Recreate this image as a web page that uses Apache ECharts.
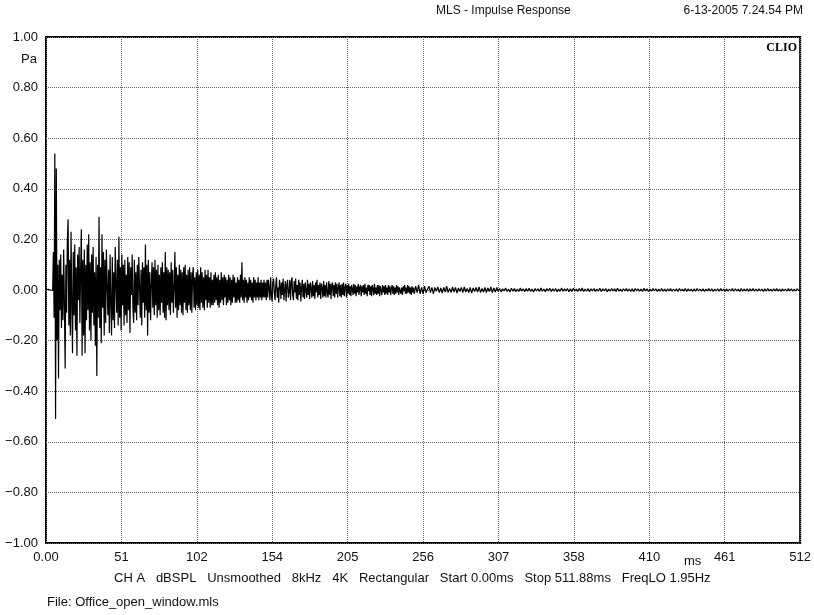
<!DOCTYPE html>
<html>
<head>
<meta charset="utf-8">
<script src="https://cdn.jsdelivr.net/npm/echarts@6/dist/echarts.min.js"></script>
<style>
html,body{margin:0;padding:0;background:#fff;}
#chart{width:814px;height:615px;}
</style>
</head>
<body>
<div id="chart"></div>
<script>
// Segment A: 0 .. 150 ms, every 0.5 ms (301 values, 10 per row = 5 ms)
var segAStart = 0, segAStep = 0.5;
var segAValues = [
 0, 0, 0, 0.003, -0.002, 0.002, 0, -0.003, 0.004, -0.002,
 0.15, -0.11, 0.54, -0.51, 0.48, -0.20, 0.10, -0.35, 0.12, -0.08,
 0.14, -0.15, 0.06, -0.12, 0.16, -0.05, -0.31, 0.10, -0.09, 0.20,
 0.28, -0.14, 0.12, -0.18, 0.23, -0.06, -0.25, 0.15, -0.10, 0.18,
 -0.16, 0.09, -0.26, 0.14, -0.04, 0.17, -0.13, 0.08, 0.24, -0.26,
 0.12, -0.18, 0.16, -0.25, 0.10, -0.12, 0.18, -0.08, 0.22, -0.16,
 0.11, -0.20, 0.14, -0.09, 0.17, -0.14, 0.07, -0.22, 0.13, -0.34,
 0.10, -0.11, 0.29, -0.15, 0.09, -0.21, 0.22, -0.07, 0.15, -0.18,
 0.12, -0.13, 0.16, 0.02, -0.10, 0.08, -0.17, 0.14, -0.05, -0.18,
 0.13, -0.12, 0.07, -0.15, 0.17, 0.03, -0.09, 0.12, -0.14, 0.21,
 -0.11, 0.09, -0.16, 0.14, -0.06, 0.10, -0.14, 0.12, -0.10, 0.06,
 -0.13, 0.13, -0.08, 0.11, -0.17, 0.09, -0.02, 0.14, -0.07, -0.13,
 0.12, -0.09, 0.07, -0.12, 0.10, -0.06, 0.13, 0.01, -0.11, 0.08,
 -0.14, 0.11, -0.05, 0.09, -0.11, 0.18, -0.08, 0.10, -0.18, 0.12,
 -0.09, 0.07, -0.12, 0.02, 0.11, -0.07, 0.09, -0.10, 0.12, -0.06,
 0.08, -0.11, 0.10, -0.08, 0.06, -0.10, 0.09, -0.05, 0.11, -0.09,
 0.07, -0.11, 0.15, -0.12, 0.09, -0.06, 0.08, -0.08, 0.07, -0.10,
 0.11, -0.05, 0.08, -0.09, 0.01, 0.15, -0.07, 0.09, -0.11, 0.06,
 -0.08, 0.10, -0.06, 0.08, -0.09, 0.07, -0.10, 0.09, -0.05, 0.10,
 -0.08, 0.06, -0.09, 0.08, -0.06, 0.09, -0.08, 0.07, -0.09, 0.06,
 0.09, -0.07, 0.05, -0.08, 0.07, -0.06, 0.08, -0.07, 0.06, -0.08,
 0.09, -0.05, 0.07, -0.07, 0.05, -0.08, 0.08, -0.04, 0.06, -0.07,
 0.08, -0.05, 0.05, -0.07, 0.07, -0.06, 0.04, -0.06, 0.06, -0.05,
 0.07, -0.04, 0.05, -0.06, 0.06, -0.07, 0.04, -0.05, 0.07, -0.04,
 0.05, -0.06, 0.06, -0.03, 0.05, -0.06, 0.04, -0.05, 0.06, -0.04,
 0.05, -0.06, 0.04, -0.05, 0.06, -0.03, 0.05, -0.05, 0.03, -0.05,
 0.05, -0.04, 0.04, -0.05, 0.06, -0.03, 0.11, -0.04, 0.04, -0.05,
 0.05, -0.03, 0.04, -0.05, 0.03, -0.04, 0.05, -0.03, 0.04, -0.04,
 0.03, -0.05, 0.05, -0.03, 0.04, -0.04, 0.03, -0.03, 0.05, -0.04,
 0.03, -0.03, 0.04, -0.04, 0.03, -0.03, 0.04, -0.03, 0.03, -0.04,
 0.04
];
// Segment B: 150.5 .. 250 ms, every 0.5 ms (200 values)
var segBStart = 150.5, segBStep = 0.5;
var segBValues = [
 -0.03, 0.04, 0.01, -0.04, 0.05, -0.02, -0.045, 0.03, 0.045, -0.01,
 -0.04, 0.02, 0.05, -0.03, 0.01, -0.05, 0.04, 0.02, -0.035, 0.03,
 -0.02, 0.045, -0.04, 0.0, 0.035, -0.045, 0.02, 0.04, -0.03, -0.01,
 0.04, -0.04, 0.03, 0.05, -0.02, -0.04, 0.035, -0.01, 0.045, -0.035,
 0.02, -0.04, 0.04, -0.02, 0.03, -0.045, 0.01, 0.04, -0.03, 0.025,
 -0.035, 0.03, 0.0, -0.03, 0.04, -0.02, 0.025, -0.035, 0.03, 0.01,
 -0.03, 0.035, -0.025, 0.02, -0.035, 0.03, -0.01, 0.04, -0.03, 0.02,
 -0.02, 0.03, -0.035, 0.025, 0.01, -0.03, 0.035, -0.025, 0.02, -0.03,
 0.03, -0.01, -0.03, 0.035, -0.02, 0.025, -0.035, 0.02, 0.03, -0.025,
 0.02, -0.03, 0.03, -0.015, 0.025, -0.03, 0.01, 0.03, -0.025, 0.02,
 -0.03, 0.025, -0.02, 0.03, -0.025, 0.01, 0.025, -0.03, 0.02, -0.015,
 0.025, -0.02, 0.015, -0.025, 0.02, 0.005, -0.02, 0.025, -0.015, 0.02,
 -0.025, 0.015, -0.01, 0.025, -0.02, 0.01, 0.02, -0.025, 0.015, -0.01,
 0.02, -0.02, 0.025, -0.015, 0.01, -0.025, 0.02, -0.005, 0.02, -0.02,
 0.015, -0.025, 0.02, 0.005, -0.02, 0.025, -0.015, 0.01, -0.02, 0.02,
 -0.015, 0.02, -0.025, 0.015, 0.01, -0.02, 0.02, -0.01, 0.015, -0.02,
 0.02, -0.015, 0.01, -0.02, 0.02, -0.01, 0.015, -0.02, 0.005, 0.02,
 -0.015, 0.015, -0.02, 0.01, -0.015, 0.02, -0.01, 0.015, -0.02, 0.01,
 0.015, -0.015, 0.01, -0.02, 0.015, -0.005, 0.02, -0.015, 0.01, -0.015,
 0.02, -0.01, 0.015, -0.015, 0.01, -0.02, 0.015, -0.01, 0.01, -0.015
];
// Segment C: 251 .. 512 ms, every 1 ms (262 values)
var segCStart = 251, segCStep = 1;
var segCValues = [
 0.015, -0.01, 0.02, -0.015, 0.01, -0.015, 0.015, -0.01,
 -0.01, 0.015, -0.01, 0.01, -0.015, 0.01, -0.005, 0.012, -0.01, 0.008, -0.012, 0.01, -0.008, 0.015, -0.01, 0.006, -0.01, 0.012, -0.008, 0.01, -0.012, 0.008, -0.006, 0.01, -0.01, 0.012, -0.008, 0.006, -0.01, 0.01, -0.012, 0.008, -0.006, 0.01, -0.008, 0.012, -0.01, 0.006, -0.008, 0.01, -0.01, 0.008, -0.006, 0.012, -0.01, 0.008, -0.008, 0.01, -0.006,
 0.006, -0.008, 0.005, -0.004, 0.008, -0.006, 0.004, -0.008, 0.007, -0.005, 0.006, -0.007, 0.004, -0.006, 0.008, -0.004, 0.005, -0.007, 0.006, -0.005,
 0.007, -0.006, 0.004, -0.008, 0.006, -0.004, 0.005, -0.006, 0.008, -0.005, 0.004, -0.007, 0.006, -0.004, 0.007, -0.006, 0.005, -0.005, 0.006, -0.007,
 0.004, -0.006, 0.008, -0.005, 0.005, -0.004, 0.006, -0.007, 0.005, -0.006, 0.007, -0.004, 0.004, -0.006, 0.006, -0.005, 0.008, -0.006, 0.004, -0.005,
 0.006, -0.007, 0.005, -0.004, 0.006, -0.006, 0.004, -0.005, 0.007, -0.006, 0.005, -0.004, 0.006, -0.007, 0.004, -0.005, 0.006, -0.004, 0.005, -0.006,
 0.007, -0.005, 0.004, -0.006, 0.005, -0.004, 0.006, -0.005, 0.004, -0.006, 0.005, -0.007, 0.006, -0.004, 0.005, -0.005, 0.004, -0.006, 0.007, -0.004,
 0.005, -0.006, 0.004, -0.005, 0.006, -0.004, 0.005, -0.006, 0.004, -0.005, 0.006, -0.005, 0.004, -0.006, 0.005, -0.004, 0.006, -0.005, 0.004, -0.004,
 0.005, -0.006, 0.006, -0.004, 0.004, -0.005, 0.006, -0.006, 0.005, -0.004, 0.004, -0.006, 0.005, -0.005, 0.006, -0.004, 0.004, -0.005, 0.005, -0.006,
 0.004, -0.004, 0.006, -0.005, 0.005, -0.006, 0.004, -0.004, 0.005, -0.005, 0.006, -0.004, 0.004, -0.006, 0.005, -0.005, 0.004, -0.004, 0.006, -0.005,
 0.005, -0.004, 0.004, -0.006, 0.006, -0.005, 0.004, -0.004, 0.005, -0.006, 0.005, -0.004, 0.006, -0.005, 0.004, -0.005, 0.005, -0.004, 0.004, -0.006,
 0.005, -0.005, 0.006, -0.004, 0.004, -0.005, 0.005, -0.004, 0.006, -0.005, 0.004, -0.006, 0.005, -0.004, 0.004, -0.005, 0.006, -0.004, 0.005, -0.005,
 0.004, -0.004, 0.005, -0.003, 0.002
];
var xTickLabels = ['0.00', '51', '102', '154', '205', '256', '307', '358', '410', '461', '512'];
var yTickLabels = ['\u22121.00', '\u22120.80', '\u22120.60', '\u22120.40', '\u22120.20', '0.00', '0.20', '0.40', '0.60', '0.80', '1.00'];
var titleText = 'MLS - Impulse Response';
var dateText = '6-13-2005 7.24.54 PM';
var footerItems = ['CH A', 'dBSPL', 'Unsmoothed', '8kHz', '4K', 'Rectangular', 'Start 0.00ms', 'Stop 511.88ms', 'FreqLO 1.95Hz'];
var fileText = 'File: Office_open_window.mls';

var data = [];
segAValues.forEach(function (v, i) { data.push([segAStart + i * segAStep, v]); });
segBValues.forEach(function (v, i) { data.push([segBStart + i * segBStep, v]); });
segCValues.forEach(function (v, i) { data.push([segCStart + i * segCStep, v]); });

var FONT = '"Liberation Sans", Arial, sans-serif';
var chart = echarts.init(document.getElementById('chart'), null, {renderer: 'canvas'});
chart.setOption({
  animation: false,
  backgroundColor: '#fff',
  grid: {left: 46, right: 11, top: 37, bottom: 72, show: true, borderColor: '#000', borderWidth: 2, backgroundColor: 'transparent'},
  xAxis: {
    type: 'value', min: 0, max: 512, interval: 51.2,
    axisLine: {show: false}, axisTick: {show: false},
    splitLine: {show: true, lineStyle: {color: '#666', type: [1, 1], width: 1}},
    axisLabel: {
      margin: 8, color: '#111', fontFamily: FONT, fontSize: 13,
      showMinLabel: true, showMaxLabel: true,
      formatter: function (v) { return xTickLabels[Math.round(v / 51.2)]; }
    }
  },
  yAxis: {
    type: 'value', min: -1, max: 1, interval: 0.2,
    axisLine: {show: false}, axisTick: {show: false},
    splitLine: {show: true, lineStyle: {color: '#666', type: [1, 1], width: 1}},
    axisLabel: {
      margin: 8, color: '#111', fontFamily: FONT, fontSize: 13,
      formatter: function (v) { return yTickLabels[Math.round((v + 1) / 0.2)]; }
    }
  },
  graphic: [
    {type: 'text', left: 436, top: 5, style: {text: titleText, fill: '#111', font: '12px ' + FONT}},
    {type: 'text', right: 11, top: 5, style: {text: dateText, fill: '#111', font: '12px ' + FONT}},
    {type: 'text', right: 17, top: 42, style: {text: 'CLIO', fill: '#000', font: 'bold 12px "Liberation Serif", "DejaVu Serif", serif'}},
    {type: 'text', right: 777, top: 53, style: {text: 'Pa', fill: '#111', font: '13px ' + FONT}},
    {type: 'text', left: 684, top: 555, style: {text: 'ms', fill: '#111', font: '13px ' + FONT}},
    {type: 'text', left: 114, top: 572, style: {text: footerItems.join('   '), fill: '#111', font: '13px ' + FONT}},
    {type: 'text', left: 47, top: 596, style: {text: fileText, fill: '#111', font: '13px ' + FONT}}
  ],
  series: [{
    type: 'line', data: data, showSymbol: false, symbol: 'none', sampling: null,
    lineStyle: {color: '#000', width: 1.2}, silent: true, z: 3
  }]
});
</script>
</body>
</html>
